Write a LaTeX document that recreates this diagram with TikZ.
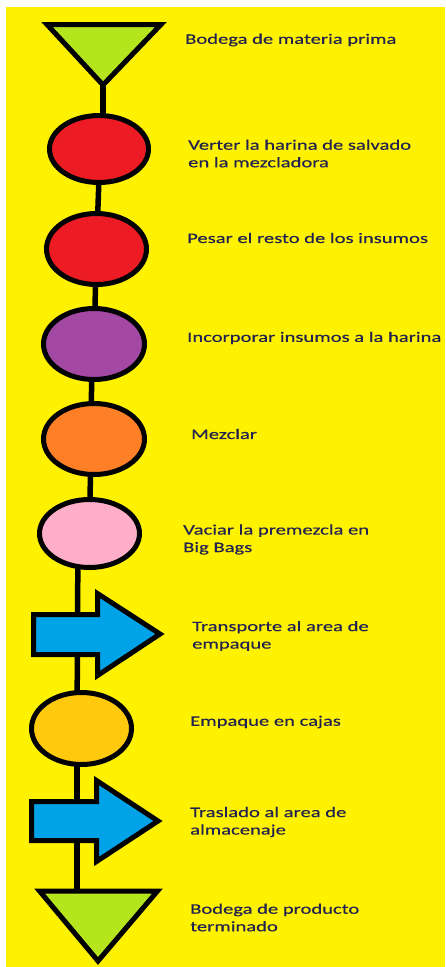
\documentclass[tikz,border=0pt]{standalone}
\usepackage{fontspec}
\setmainfont{Carlito}[FakeStretch=1.42,FakeBold=0.4]
\usetikzlibrary{shapes.geometric}
\definecolor{bgyellow}{RGB}{255,242,0}
\definecolor{tgreen}{RGB}{181,230,29}
\definecolor{ored}{RGB}{237,28,36}
\definecolor{opurple}{RGB}{163,73,164}
\definecolor{oorange}{RGB}{255,127,39}
\definecolor{opink}{RGB}{255,174,201}
\definecolor{ogold}{RGB}{255,201,14}
\definecolor{ablue}{RGB}{0,162,232}
\definecolor{txt}{RGB}{34,34,80}
\pgfdeclarelayer{bg}
\pgfdeclarelayer{conns}
\pgfsetlayers{bg,conns,main}
\tikzset{
  op/.style={ellipse, draw=black, line width=5pt, inner sep=0pt},
  conn/.style={draw=black, line width=5.5pt},
  shapeline/.style={draw=black, line width=5pt},
  lbl/.style={anchor=west, align=left, text=txt, inner sep=0pt,
              font=\fontsize{14.5}{17.5}\selectfont}
}
\begin{document}
\begin{tikzpicture}[x=1pt,y=-1pt]
\useasboundingbox (0,0) rectangle (445,967);
\begin{pgfonlayer}{bg}
  \fill[white] (0,0) rectangle (445,967);
  \fill[bgyellow] (6,7) rectangle (445,967);
\end{pgfonlayer}

% storage triangle (top)
\path[shapeline, fill=tgreen] (47,24.5) -- (161,24.5) -- (103,85) -- cycle;
\coordinate (T1) at (103,85);

% operations
\node[op, fill=ored,    minimum width=99pt,  minimum height=67pt] (E1) at (99,149) {};
\node[op, fill=ored,    minimum width=100pt, minimum height=71pt] (E2) at (96.5,249) {};
\node[op, fill=opurple, minimum width=101pt, minimum height=71pt] (E3) at (94,344) {};
\node[op, fill=oorange, minimum width=101pt, minimum height=71pt] (E4) at (94,439) {};
\node[op, fill=opink,   minimum width=100pt, minimum height=68pt] (E5) at (89.5,533.5) {};

% transport arrow 1
\path[shapeline, fill=ablue] (33.5,614.5) -- (97.5,614.5) -- (97.5,593.5) -- (160,634)
  -- (97.5,675.5) -- (97.5,654.5) -- (33.5,654.5) -- cycle;
\coordinate (A1) at (90,634);

\node[op, fill=ogold, minimum width=100pt, minimum height=72pt] (E6) at (81.5,728.5) {};

% transport arrow 2
\path[shapeline, fill=ablue] (31.5,801.5) -- (96.5,801.5) -- (96.5,780.5) -- (158,821)
  -- (96.5,861.5) -- (96.5,840.5) -- (31.5,840.5) -- cycle;
\coordinate (A2) at (90,821);

% storage triangle (bottom)
\path[shapeline, fill=tgreen] (39.5,891) -- (157.5,891) -- (98,961) -- cycle;
\coordinate (T2) at (77,891);

% connectors
\begin{pgfonlayer}{conns}
  \draw[conn] (T1) -- (T1 |- E1.center);
  \draw[conn] ([xshift=1pt]E1.center) -- (E2.center);
  \draw[conn] (E2.center) -- (E3.center);
  \draw[conn] ([xshift=-2pt]E3.center) -- ([xshift=-3pt]E4.center);
  \draw[conn] ([xshift=-3pt]E4.center) -- (E5.center);
  \draw[conn] ([xshift=-11.5pt]E5.center) -- ([xshift=-4.5pt]E6.center);
  \draw[conn] ([xshift=-4.5pt]E6.center) -- (T2);
\end{pgfonlayer}

% labels
\node[lbl] (L1) at (185,40) {Bodega de materia prima};
\node[lbl] (L2) at (188,153.5) {Verter la harina de salvado\\en la mezcladora};
\node[lbl] (L3) at (187,238) {Pesar el resto de los insumos};
\node[lbl] (L4) at (187,338) {Incorporar insumos a la harina};
\node[lbl] (L5) at (191,434) {Mezclar};
\node[lbl] (L6) at (183,539.5) {Vaciar la premezcla en\\Big Bags};
\node[lbl] (L7) at (192,636) {Transporte al area de\\empaque};
\node[lbl] (L8) at (190,722) {Empaque en cajas};
\node[lbl] (L9) at (190,822) {Traslado al area de\\almacenaje};
\node[lbl] (L10) at (190,917.5) {Bodega de producto\\terminado};
\end{tikzpicture}
\end{document}
